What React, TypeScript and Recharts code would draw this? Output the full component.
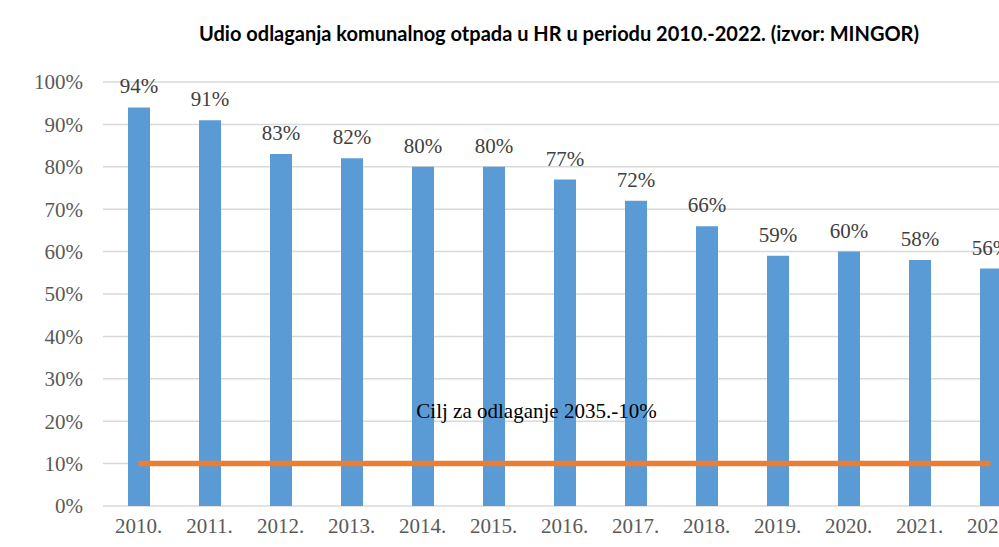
import React from 'react';
import {
  ComposedChart,
  Bar,
  Line,
  XAxis,
  YAxis,
  CartesianGrid,
  LabelList,
  ReferenceDot,
} from 'recharts';

const years = ['2010.', '2011.', '2012.', '2013.', '2014.', '2015.', '2016.', '2017.', '2018.', '2019.', '2020.', '2021.', '2022.'];
const shares = [94, 91, 83, 82, 80, 80, 77, 72, 66, 59, 60, 58, 56];
const targetShare = 10;
const yTicks = [0, 10, 20, 30, 40, 50, 60, 70, 80, 90, 100];

const title = 'Udio odlaganja komunalnog otpada u HR u periodu 2010.-2022. (izvor: MINGOR)';
const targetLabel = 'Cilj za odlaganje 2035.-10%';

const data = years.map((year, i) => ({
  year,
  share: shares[i],
  target: targetShare,
}));

const serif = '"Liberation Serif", "Times New Roman", serif';

export default function App() {
  return (
    <div
      style={{
        position: 'absolute',
        left: 0,
        top: 0,
        width: 999,
        height: 547,
        overflow: 'hidden',
        background: '#fff',
      }}
    >
      <div
        style={{
          position: 'absolute',
          left: 0,
          top: 20,
          width: 1118,
          textAlign: 'center',
          fontFamily: 'Lato, "Open Sans", sans-serif',
          fontWeight: 700,
          fontSize: 20,
          color: '#000',
          lineHeight: '26px',
        }}
      >
        {title}
      </div>
      <ComposedChart
        width={1040}
        height={547}
        data={data}
        margin={{ top: 82, right: 14, bottom: 11, left: 0 }}
      >
        <CartesianGrid vertical={false} stroke="#D9D9D9" strokeWidth={1.5} />
        <XAxis
          dataKey="year"
          axisLine={false}
          tickLine={false}
          height={30}
          tickMargin={6}
          tick={{ fill: '#595959', fontSize: 21, fontFamily: serif }}
          interval={0}
        />
        <YAxis
          domain={[0, 100]}
          ticks={yTicks}
          width={103}
          axisLine={false}
          tickLine={false}
          tickMargin={14}
          tickFormatter={(v) => `${v}%`}
          tick={{ fill: '#595959', fontSize: 21, fontFamily: serif }}
        />
        <Bar dataKey="share" fill="#5B9BD5" barSize={22} isAnimationActive={false}>
          <LabelList
            dataKey="share"
            position="top"
            offset={14}
            formatter={(v: number) => `${v}%`}
            style={{ fill: '#404040', fontSize: 21, fontFamily: serif }}
          />
        </Bar>
        <Line
          dataKey="target"
          stroke="#ED7D31"
          strokeWidth={5.5}
          dot={false}
          activeDot={false}
          isAnimationActive={false}
        />
        <ReferenceDot
          x="2015."
          y={20.75}
          r={0}
          fill="none"
          stroke="none"
          label={(props: any) => (
            <text
              x={props.viewBox.x + 43}
              y={props.viewBox.y}
              textAnchor="middle"
              fontSize={21}
              fontFamily={serif}
              fill="#000"
            >
              {targetLabel}
            </text>
          )}
        />
      </ComposedChart>
    </div>
  );
}
